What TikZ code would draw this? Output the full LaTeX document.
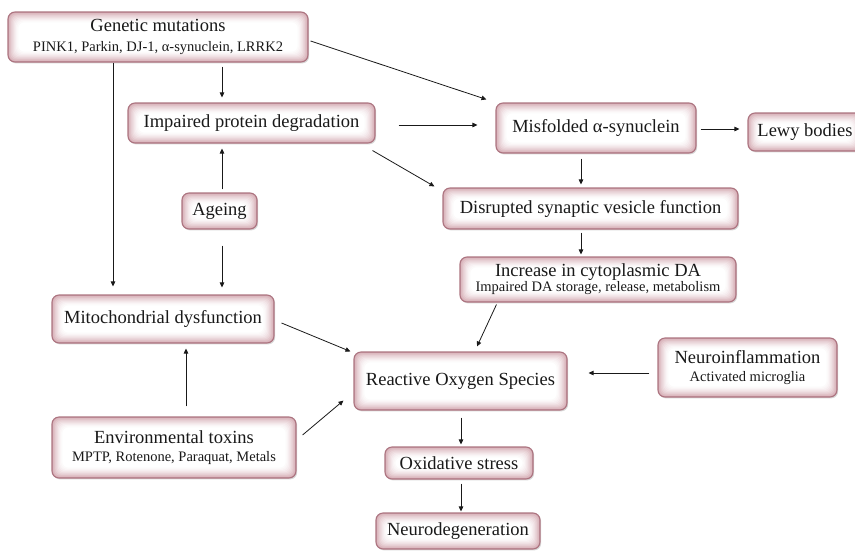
\documentclass[tikz,border=0pt]{standalone}
\usepackage{fontspec}
\setmainfont{Liberation Serif}
\usetikzlibrary{arrows.meta,shadows,calc}
\definecolor{boxline}{RGB}{172,116,128}
\definecolor{boxglow}{RGB}{212,170,178}
\definecolor{ink}{RGB}{25,25,25}
\tikzset{
  box/.style={draw=boxline, line width=1.1pt, rounded corners=7pt, fill=white,
    align=center, inner sep=0pt, text=ink,
    font=\fontsize{18.5}{21}\selectfont,
    drop shadow={shadow xshift=1.2pt, shadow yshift=-1.4pt, opacity=0.25, fill=black!60},
    path picture={
      \foreach \k/\c in {0/100,1/82,2/66,3/52,4/40,5/29,6/20,7/12,8/6,9/0}{
        \fill[boxglow!\c!white, rounded corners=6pt]
          ([shift={(\k*1.15pt,\k*1.15pt)}]path picture bounding box.south west)
          rectangle ([shift={(-\k*1.15pt,-\k*1.15pt)}]path picture bounding box.north east);
      }
    }},
  arr/.style={draw=ink, line width=0.8pt, -{Triangle[length=5pt,width=4.5pt]}}
}
\newcommand{\subt}[1]{{\fontsize{14.5}{16}\selectfont #1}}
\begin{document}
\begin{tikzpicture}[x=1pt,y=-1pt]
\useasboundingbox (0,0) rectangle (855,550);

% nodes
\node[box, minimum width=300pt, minimum height=50pt] (gm) at (158,37)
  {Genetic mutations\\[-1pt]\subt{PINK1, Parkin, DJ-1, α-synuclein, LRRK2}};
\node[box, minimum width=247pt, minimum height=40pt] (ipd) at (251.5,123) {Impaired protein degradation};
\node[box, minimum width=200pt, minimum height=50pt] (misf) at (596,128) {Misfolded α-synuclein};
\node[box, minimum width=114pt, minimum height=38pt] (lewy) at (805,132) {Lewy bodies};
\node[box, minimum width=75pt, minimum height=36pt] (ageing) at (219.5,211) {Ageing};
\node[box, minimum width=295pt, minimum height=41pt] (disr) at (590.5,208.5) {Disrupted synaptic vesicle function};
\node[box, minimum width=276pt, minimum height=45pt] (incr) at (598,279.5)
  {Increase in cytoplasmic DA\\[-6pt]\subt{Impaired DA storage, release, metabolism}};
\node[box, minimum width=222pt, minimum height=48pt] (mito) at (163,319) {Mitochondrial dysfunction};
\node[box, minimum width=213pt, minimum height=58pt] (ros) at (460.5,381) {Reactive Oxygen Species};
\node[box, minimum width=179pt, minimum height=59pt] (neuro) at (747.5,367.5)
  {Neuroinflammation\\[-3pt]\subt{Activated microglia}};
\node[box, minimum width=244pt, minimum height=61pt] (env) at (174,447.5)
  {Environmental toxins\\[-3pt]\subt{MPTP, Rotenone, Paraquat, Metals}};
\node[box, minimum width=148pt, minimum height=32pt] (oxi) at (459,463) {Oxidative stress};
\node[box, minimum width=164pt, minimum height=36pt] (ndeg) at (458,531) {Neurodegeneration};

% column / row helpers
\coordinate (cA) at (222,0);
\coordinate (cB) at (113,0);
\coordinate (cC) at (186,0);
\coordinate (cD) at (581,0);
\coordinate (cE) at (461,0);
\coordinate (rA) at (0,125);
\coordinate (rB) at (0,129);
\coordinate (rC) at (0,373);

% vertical connectors
\draw[arr, shorten <=4pt, shorten >=5pt] (gm.south -| cA) -- (ipd.north -| cA);
\draw[arr, shorten >=8pt] (gm.south -| cB) -- (mito.north -| cB);
\draw[arr, shorten <=3pt, shorten >=5pt] (ageing.north -| cA) -- (ipd.south -| cA);
\draw[arr, shorten <=16pt, shorten >=7pt] (ageing.south -| cA) -- (mito.north -| cA);
\draw[arr, shorten <=10pt, shorten >=5pt] (env.north -| cC) -- (mito.south -| cC);
\draw[arr, shorten <=5pt, shorten >=3pt] (misf.south -| cD) -- (disr.north -| cD);
\draw[arr, shorten <=3pt, shorten >=2pt] (disr.south -| cD) -- (incr.north -| cD);
\draw[arr, shorten <=7pt, shorten >=2pt] (ros.south -| cE) -- (oxi.north -| cE);
\draw[arr, shorten <=4pt, shorten >=1pt] (oxi.south -| cE) -- (ndeg.north -| cE);

% horizontal connectors
\draw[arr, shorten <=23pt, shorten >=18pt] (ipd.east |- rA) -- (misf.west |- rA);
\draw[arr, shorten <=4pt, shorten >=8pt] (misf.east |- rB) -- (lewy.west |- rB);
\draw[arr, shorten <=8pt, shorten >=21pt] (neuro.west |- rC) -- (ros.east |- rC);

% diagonal connectors
\draw[arr] ([xshift=2pt,yshift=-4pt]gm.east) -- ([xshift=-9pt,yshift=3pt]misf.north west);
\draw[arr] ([xshift=-3pt,yshift=-7pt]ipd.south east) -- ([xshift=-8pt,yshift=1pt]disr.north west);
\draw[arr] ([xshift=37pt,yshift=-2pt]incr.south west) -- ([xshift=16.5pt,yshift=5pt]ros.north);
\draw[arr] ([xshift=7pt,yshift=-4pt]mito.east) -- ([xshift=-3pt,yshift=0pt]ros.north west);
\draw[arr] ([xshift=6pt,yshift=12.5pt]env.east) -- ([xshift=-10pt,yshift=10pt]ros.south west);
\end{tikzpicture}
\end{document}
